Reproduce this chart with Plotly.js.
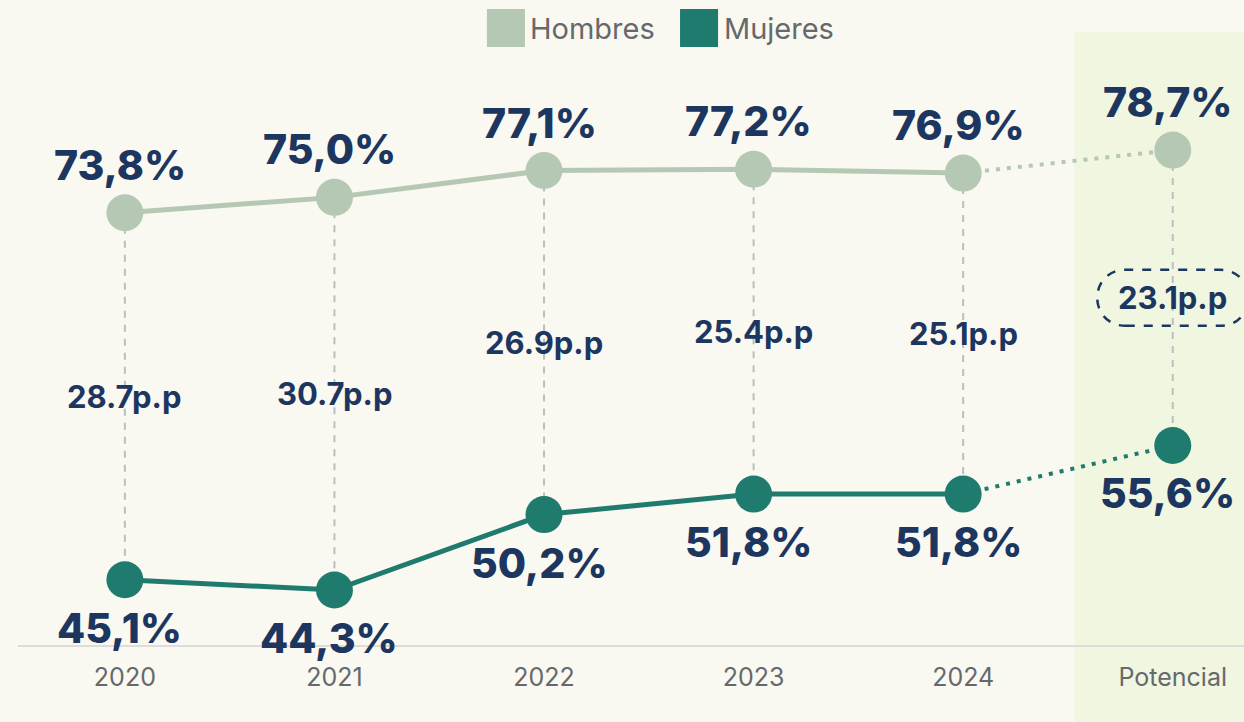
<!DOCTYPE html>
<html><head><meta charset="utf-8">
<script src="https://cdn.plot.ly/plotly-3.0.1.min.js"></script>
<style>html,body{margin:0;padding:0;background:#f9f8f1;} #chart{width:1244px;height:722px;}</style>
</head><body><div id="chart"></div>
<script>
const categories = ['2020','2021','2022','2023','2024','Potencial'];
const hombres = [73.8, 75.0, 77.1, 77.2, 76.9, 78.7];
const mujeres = [45.1, 44.3, 50.2, 51.8, 51.8, 55.6];
const brecha = [28.7, 30.7, 26.9, 25.4, 25.1, 23.1];
const seriesNames = ['Hombres', 'Mujeres'];

const cH = '#b5c8b4', cM = '#207b6f', navy = '#1c365f', gray = '#66696c';
const FONT = 'Inter';
const nReal = 5;
const fmt = v => v.toFixed(1).replace('.', ',') + '%';

const traces = [];
traces.push({
  x: categories.flatMap(c => [c, c, null]),
  y: categories.flatMap((c, i) => [hombres[i], mujeres[i], null]),
  mode: 'lines', line: {color: '#bcbec1', width: 2, dash: '7px,7px'},
  hoverinfo: 'skip', showlegend: false
});
[[hombres, cH], [mujeres, cM]].forEach(([vals, col]) => {
  traces.push({x: categories.slice(0, nReal), y: vals.slice(0, nReal), mode: 'lines',
    line: {color: col, width: 5}, showlegend: false, hoverinfo: 'skip'});
  traces.push({x: categories.slice(nReal - 1), y: vals.slice(nReal - 1), mode: 'lines',
    line: {color: col, width: 4, dash: '4px,7px'}, showlegend: false, hoverinfo: 'skip'});
  traces.push({x: categories, y: vals, mode: 'markers', cliponaxis: false,
    marker: {color: col, size: 37}, showlegend: false});
});

const annotations = [];
categories.forEach((c, i) => {
  annotations.push({x: i, y: hombres[i], text: fmt(hombres[i]), showarrow: false, yshift: 48, xshift: -5,
    font: {family: FONT, size: 41, color: navy, weight: 800}});
  annotations.push({x: i, y: mujeres[i], text: fmt(mujeres[i]), showarrow: false, yshift: -48, xshift: -5,
    font: {family: FONT, size: 41, color: navy, weight: 800}});
  annotations.push({x: i, y: (hombres[i] + mujeres[i]) / 2, text: brecha[i].toFixed(1) + 'p.p', showarrow: false,
    font: {family: FONT, size: 31, color: navy, weight: 700}});
});
annotations.push({xref: 'paper', yref: 'paper', x: 0.416, y: 1.0065, xanchor: 'left', yanchor: 'middle',
  text: seriesNames[0], showarrow: false, font: {family: FONT, size: 29, color: gray}});
annotations.push({xref: 'paper', yref: 'paper', x: 0.5745, y: 1.0065, xanchor: 'left', yanchor: 'middle',
  text: seriesNames[1], showarrow: false, font: {family: FONT, size: 29, color: gray}});

const shapes = [
  {type: 'rect', xref: 'x', yref: 'paper', x0: 4.53, x1: 5.8, y0: -0.3, y1: 1, fillcolor: '#f1f6e0',
   line: {width: 0}, layer: 'below'},
  {type: 'rect', xref: 'paper', yref: 'paper', x0: 0.3825, x1: 0.4135, y0: 0.9755, y1: 1.0375,
   fillcolor: cH, line: {width: 0}},
  {type: 'rect', xref: 'paper', yref: 'paper', x0: 0.54, x1: 0.571, y0: 0.9755, y1: 1.0375,
   fillcolor: cM, line: {width: 0}},
  {type: 'path', xref: 'x', yref: 'y', xsizemode: 'pixel', ysizemode: 'pixel',
   xanchor: 5, yanchor: (hombres[5] + mujeres[5]) / 2,
   path: 'M -47,-28 L 47,-28 C 85,-28 85,28 47,28 L -47,28 C -85,28 -85,-28 -47,-28 Z',
   line: {color: navy, width: 2.5, dash: 'dash'}}
];

const layout = {
  width: 1244, height: 722,
  margin: {l: 18, r: 0, t: 32, b: 77},
  paper_bgcolor: '#f9f8f1', plot_bgcolor: 'rgba(0,0,0,0)',
  showlegend: false,
  xaxis: {type: 'category', range: [-0.51, 5.34], showline: true, linecolor: '#dcdcd8', linewidth: 2,
    showgrid: false, zeroline: false, ticks: '', ticklabelstandoff: 9,
    tickfont: {family: FONT, size: 25, color: gray}, fixedrange: true},
  yaxis: {range: [40, 87.93], visible: false, showgrid: false, zeroline: false, fixedrange: true},
  annotations, shapes
};
Plotly.newPlot('chart', traces, layout, {displayModeBar: false, staticPlot: true});
</script></body></html>
